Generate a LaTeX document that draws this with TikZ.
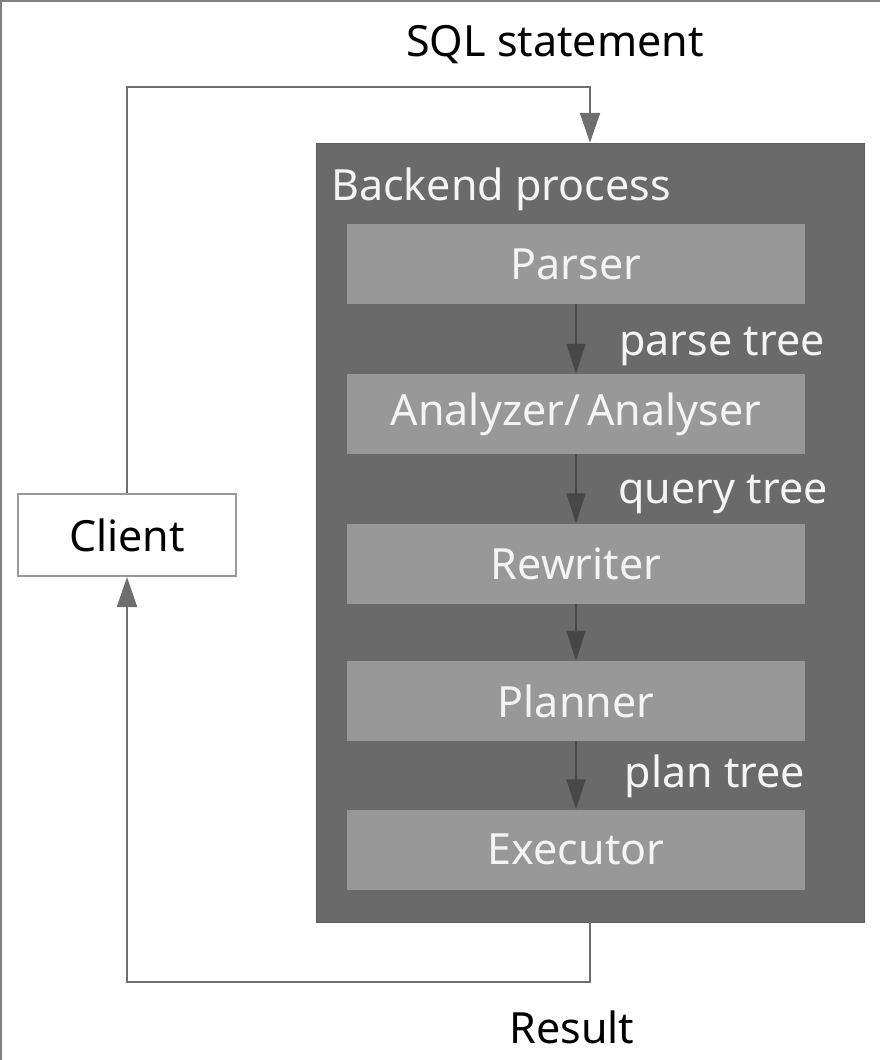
\documentclass[tikz,border=0pt]{standalone}
\usepackage{fontspec}
\setmainfont{Noto Sans}
\usetikzlibrary{arrows.meta}
\definecolor{backgray}{HTML}{6A6A6A}
\definecolor{stepgray}{HTML}{989898}
\definecolor{linegray}{HTML}{6E6E6E}
\definecolor{tipgray}{HTML}{474747}
\definecolor{textwhite}{HTML}{F4F4F4}
\begin{document}
\begin{tikzpicture}[x=1pt,y=-1pt,
  stage/.style={fill=stepgray, minimum width=458pt, minimum height=80pt, inner sep=0pt, text=textwhite},
  flow/.style={draw=tipgray, line width=1.6pt, -{Triangle[length=30pt,width=19pt]}},
  loop/.style={draw=linegray, line width=2pt, -{Triangle[length=30pt,width=20pt]}},
  tag/.style={text=textwhite, inner sep=0pt}]
\useasboundingbox (0,0) rectangle (880,1060);
\fontsize{43pt}{48pt}\selectfont
\path[draw=gray, line width=1.5pt] (0.75,1060) -- (0.75,0.75) -- (880,0.75);

\node[fill=backgray, draw=backgray!90!black, minimum width=548pt, minimum height=779pt, inner sep=0pt] (backend) at (590,532.5) {};
\node[tag, anchor=west] (backlabel) at (331,189) {Backend process};

\node[stage] (parser) at (576,264) {Parser};
\node[stage] (analyzer) at (576,414) {Analyzer/\,Analyser};
\node[stage] (rewriter) at (576,563.5) {Rewriter};
\node[stage] (planner) at (576,701) {Planner};
\node[stage] (executor) at (576,849.5) {Executor};

\node[tag] (parsetree) at (722,346) {parse tree};
\node[tag] (querytree) at (723,494) {query tree};
\node[tag] (plantree) at (715,776) {plan tree};

\node[draw=linegray!70, line width=2pt, fill=white, minimum width=218pt, minimum height=82pt, inner sep=0pt] (client) at (127,535) {Client};

\node (sql) at (555,45) {SQL statement};
\node (result) at (572,1027) {Result};

\coordinate (sqltop) at (590,87);
\coordinate (resbot) at (590,982);

\path[flow] (parser) -- (analyzer);
\path[flow] (analyzer) -- (rewriter);
\path[flow] (rewriter) -- (planner);
\path[flow] (planner) -- (executor);

\path[loop] (client.north) |- (sqltop) -- (backend.north);
\path[loop] (backend.south) -- (resbot) -| (client.south);
\end{tikzpicture}
\end{document}
